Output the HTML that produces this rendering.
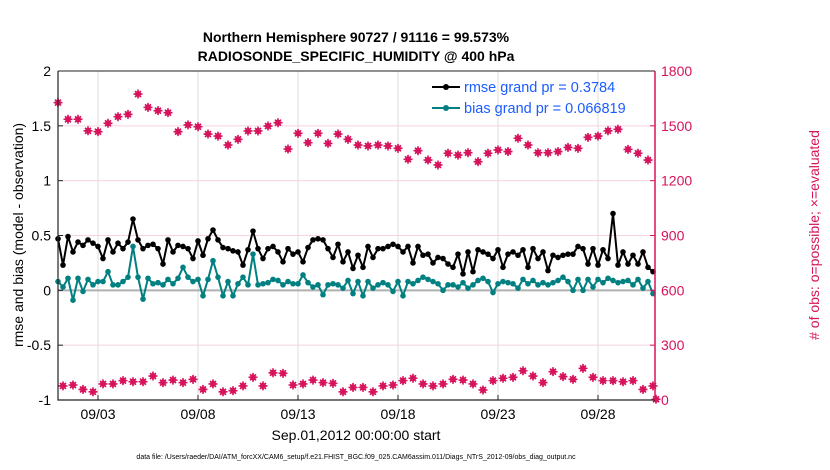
<!DOCTYPE html>
<html><head><meta charset="utf-8">
<style>
body{margin:0;background:#fff;}
svg{display:block;font-family:"Liberation Sans",Arial,sans-serif;}
</style></head>
<body>
<svg id="chart" width="830" height="470" viewBox="0 0 830 470">
  <text x="356" y="42" text-anchor="middle" font-size="14" font-weight="bold">Northern Hemisphere 90727 / 91116 = 99.573%</text>
  <text x="356" y="61" text-anchor="middle" font-size="14" font-weight="bold">RADIOSONDE_SPECIFIC_HUMIDITY @ 400 hPa</text>
  <g id="grid"></g>
  <g id="series"></g>
  <g id="axes"></g>
  <text transform="translate(23,235) rotate(-90)" text-anchor="middle" font-size="14">rmse and bias (model - observation)</text>
  <text transform="translate(819,235) rotate(-90)" text-anchor="middle" font-size="14" fill="#d6135c"># of obs: o=possible; ×=evaluated</text>
  <text x="356" y="440" text-anchor="middle" font-size="14">Sep.01,2012 00:00:00 start</text>
  <text x="356" y="459" text-anchor="middle" font-size="7">data file: /Users/raeder/DAI/ATM_forcXX/CAM6_setup/f.e21.FHIST_BGC.f09_025.CAM6assim.011/Diags_NTrS_2012-09/obs_diag_output.nc</text>
  <g id="legend">
    <line x1="432" y1="87" x2="460" y2="87" stroke="#000" stroke-width="2"/>
    <circle cx="446" cy="87" r="3" fill="#000"/>
    <text x="464" y="92" font-size="14.5" fill="#1a5cff">rmse grand pr = 0.3784</text>
    <line x1="432" y1="108" x2="460" y2="108" stroke="#008080" stroke-width="2"/>
    <circle cx="446" cy="108" r="3" fill="#008080"/>
    <text x="464" y="113" font-size="14.5" fill="#1a5cff">bias grand pr = 0.066819</text>
  </g>
</svg>
<script>
const rmse = [0.47,0.23,0.49,0.35,0.44,0.41,0.46,0.43,0.40,0.29,0.46,0.35,0.43,0.38,0.44,0.65,0.46,0.38,0.41,0.42,0.38,0.24,0.46,0.35,0.41,0.40,0.38,0.29,0.45,0.32,
0.47,0.55,0.46,0.39,0.38,0.36,0.35,0.23,0.37,0.54,0.38,0.29,0.38,0.40,0.35,0.26,0.38,0.33,0.35,0.26,0.39,0.46,0.47,0.46,0.38,0.30,0.42,0.26,0.35,0.20,
0.32,0.21,0.40,0.30,0.38,0.38,0.40,0.42,0.40,0.35,0.40,0.25,0.40,0.32,0.33,0.25,0.30,0.29,0.24,0.21,0.33,0.15,0.35,0.17,0.37,0.35,0.33,0.29,0.37,0.21,
0.33,0.35,0.32,0.37,0.21,0.38,0.29,0.35,0.18,0.32,0.30,0.32,0.33,0.33,0.40,0.38,0.24,0.38,0.23,0.37,0.29,0.70,0.23,0.35,0.24,0.32,0.24,0.35,0.21,0.17];
const bias = [0.08,0.03,0.11,-0.09,0.11,-0.01,0.10,0.05,0.08,0.08,0.17,0.05,0.05,0.08,0.12,0.40,0.12,-0.08,0.11,0.06,0.07,0.05,0.10,0.06,0.11,0.21,0.12,0.08,0.10,-0.05,
0.10,0.27,0.12,-0.05,0.08,-0.05,0.06,0.12,0.05,0.33,0.05,0.06,0.07,0.10,0.09,0.05,0.08,0.06,0.06,0.14,0.07,0.03,0.05,-0.04,0.05,0.06,0.05,0.02,0.09,-0.03,
0.08,-0.05,0.08,0.02,0.05,0.07,0.05,-0.01,0.08,-0.05,0.08,0.06,0.09,0.12,0.10,0.08,0.06,0.00,0.05,0.05,0.03,0.07,0.02,0.05,0.09,0.11,0.08,-0.02,0.06,0.08,
0.07,0.06,0.02,0.10,0.06,0.09,0.05,0.07,0.05,0.07,0.09,0.12,0.08,0.00,0.10,0.00,0.10,0.03,0.10,0.07,0.11,0.09,0.07,0.08,0.09,0.05,0.10,0.02,0.08,-0.03];
const obsTop = [1627,1536,1536,1473,1468,1514,1550,1563,1674,1601,1583,1572,1468,1505,1495,1455,1444,1395,1426,1472,1472,1499,1517,1373,1459,1408,1459,1404,1455,1426,
1395,1390,1395,1390,1377,1317,1364,1313,1286,1350,1340,1353,1304,1350,1368,1359,1432,1395,1353,1353,1359,1382,1377,1437,1444,1473,1481,1371,1350,1313];
const obsBottom = [77,82,58,45,88,88,106,100,100,131,95,109,95,113,58,88,45,51,77,124,77,149,146,82,88,109,95,91,45,69,
69,45,77,82,106,119,88,77,88,113,109,88,55,106,119,124,160,131,95,155,128,113,173,124,106,106,100,106,58,77,4];
const leftTicks = [-1,-0.5,0,0.5,1,1.5,2];
const leftTickLabels = ["-1","-0.5","0","0.5","1","1.5","2"];
const rightTicks = [0,300,600,900,1200,1500,1800];
const xTickDays = [2,7,12,17,22,27];
const xTickLabels = ["09/03","09/08","09/13","09/18","09/23","09/28"];

const PL=58, PR=655, PT=71, PB=400;
const xDay = d => PL + d*20;
const yL = v => PB - (v+1)/3*(PB-PT);
const yR = v => PB - v/1800*(PB-PT);
const NS='http://www.w3.org/2000/svg';
function mk(tag, attrs, parent){const e=document.createElementNS(NS,tag);for(const k in attrs)e.setAttribute(k,attrs[k]);parent.appendChild(e);return e;}
const grid=document.getElementById('grid'), ser=document.getElementById('series'), ax=document.getElementById('axes');
const MAG='#d6135c';

xTickDays.forEach((d,i)=>{
  const g=mk('line',{x1:xDay(d),x2:xDay(d),y1:PT,y2:PB,stroke:'#dcdcdc','stroke-width':1},grid);
  
  
  const t=mk('line',{x1:xDay(d),x2:xDay(d),y1:PB,y2:PB-5,stroke:'#222','stroke-width':1},ax);
  
  
  const l=mk('text',{x:xDay(d),y:PB+19,'text-anchor':'middle','font-size':14},ax);
  l.textContent=xTickLabels[i];
  
  
});
rightTicks.forEach(v=>{
  const g=mk('line',{x1:PL,x2:PR,y1:yR(v),y2:yR(v),stroke:'#f7d3e0','stroke-width':1},grid);
  
  
  const t=mk('line',{x1:PR-5,x2:PR,y1:yR(v),y2:yR(v),stroke:MAG,'stroke-width':1},ax);
  
  
  const l=mk('text',{x:PR+6,y:yR(v)+5,'font-size':14,fill:MAG},ax);
  l.textContent=String(v);
  
  
});
leftTicks.forEach((v,i)=>{
  const t=mk('line',{x1:PL,x2:PL+5,y1:yL(v),y2:yL(v),stroke:'#222','stroke-width':1},ax);
  
  
  const l=mk('text',{x:PL-7,y:yL(v)+5,'text-anchor':'end','font-size':14},ax);
  l.textContent=leftTickLabels[i];
  
  
});
const zl=mk('line',{x1:PL,x2:PR,y1:yL(0),y2:yL(0),stroke:'#b0b0b0','stroke-width':2},grid);



function obsMarker(x,y,name){
  const g=mk('g',{},ser);
  
  
  mk('circle',{cx:x,cy:y,r:3,fill:MAG},g);
  mk('path',{d:`M${x-4.5},${y}H${x+4.5}M${x},${y-4.5}V${y+4.5}M${x-3},${y-3}L${x+3},${y+3}M${x-3},${y+3}L${x+3},${y-3}`,stroke:MAG,'stroke-width':1.6},g);
}
obsTop.forEach((v,i)=>obsMarker(xDay(i*0.5),yR(v),'obs-count-upper-point'));
obsBottom.forEach((v,i)=>{const d=Math.min(0.25+i*0.5,29.9);obsMarker(xDay(d),yR(v),'obs-count-lower-point');});

function lineSeries(arr,color,name){
  const pts=arr.map((v,i)=>xDay(i*0.25).toFixed(1)+','+yL(v).toFixed(1)).join(' ');
  const pl=mk('polyline',{points:pts,fill:'none',stroke:color,'stroke-width':2,'stroke-linejoin':'round'},ser);
  
  
  arr.forEach((v,i)=>{
    const c=mk('circle',{cx:xDay(i*0.25),cy:yL(v),r:2.8,fill:color},ser);
    
    
  });
}
lineSeries(bias,'#008080','bias');
lineSeries(rmse,'#000','rmse');

const fr=mk('path',{d:`M${PL},${PT}V${PB}H${PR}`,fill:'none',stroke:'#222','stroke-width':1.2},ax);


const tp=mk('line',{x1:PL,x2:PR,y1:PT,y2:PT,stroke:'#222','stroke-width':1},ax);


const ra=mk('line',{x1:PR,x2:PR,y1:PT,y2:PB,stroke:MAG,'stroke-width':1.5},ax);


</script>
</body></html>
